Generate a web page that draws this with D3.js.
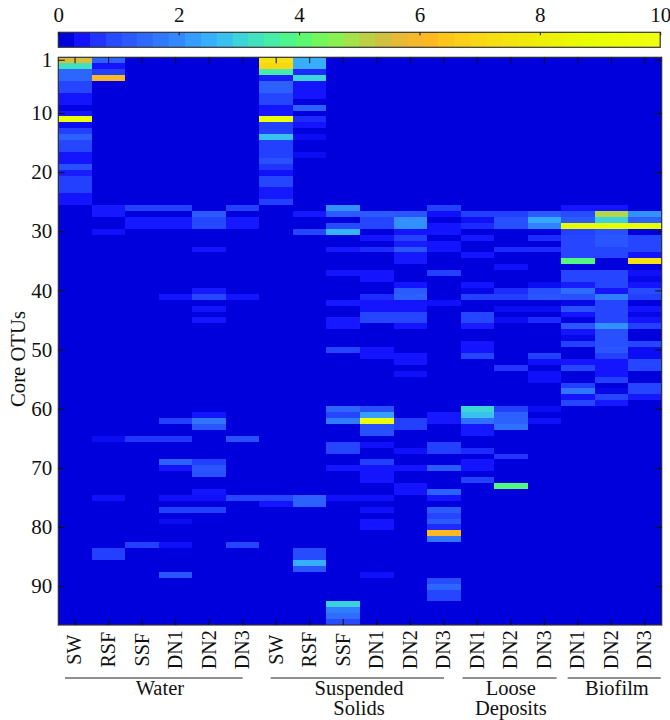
<!DOCTYPE html>
<html>
<head>
<meta charset="utf-8">
<script src="https://d3js.org/d3.v7.min.js"></script>
<style>
  html, body { margin: 0; padding: 0; background: #fff; }
  svg { display: block; }
  text { font-family: "Liberation Serif", serif; fill: #111; }
</style>
</head>
<body>
<svg class="chart"></svg>
<script>
// sample names along the x axis
var sampleNames = ["SW", "RSF", "SSF", "DN1", "DN2", "DN3", "SW", "RSF", "SSF", "DN1", "DN2", "DN3",
                   "DN1", "DN2", "DN3", "DN1", "DN2", "DN3"];
var otuTicks = [1, 10, 20, 30, 40, 50, 60, 70, 80, 90];
var colorbarTicks = [0, 2, 4, 6, 8, 10];
var colorPositions = [0, 0.3, 0.45, 0.6, 1, 1.5, 2, 2.3, 2.6, 2.9, 3.2, 3.6, 3.9, 4.2, 4.7, 5, 5.4, 5.8, 6.2, 6.6, 7.2, 8, 9, 10];
var colorValues = ["#0000dc", "#1414ff", "#1a20ff", "#2440ff", "#2a55ff", "#2f70ff", "#3390ff", "#36a8ff", "#38bbf8", "#3cd0e0",
                   "#40e0c0", "#48f0a0", "#50f880", "#68f860", "#90f050", "#b0d848", "#d0c040", "#f0b830", "#ffb820",
                   "#ffcc18", "#f8dc14", "#f0ec08", "#e8ff00", "#f0ff10"];

// one list per sample, rows are core OTUs 1..96
var waterSW = [
  5.5,3.2,1.3,1.3,.7,.7,.3,.3,.05,.3,
  9.5,.2,.6,1.2,.7,.7,.3,.3,.9,.4,
  .6,.6,.6,.3,.3,0,0,0,0,0,
  0,0,0,0,0,0,0,0,0,0,
  0,0,0,0,0,0,0,0,0,0,
  0,0,0,0,0,0,0,0,0,0,
  0,0,0,0,0,0,0,0,0,0,
  0,0,0,0,0,0,0,0,0,0,
  0,0,0,0,0,0,0,0,0,0,
  0,0,0,0,0,0];
var waterRSF = [
  1.2,.3,.6,6,0,0,0,0,0,0,
  0,0,0,0,0,0,0,0,0,0,
  0,0,0,0,0,.35,.35,0,0,.25,
  0,0,0,0,0,0,0,0,0,0,
  0,0,0,0,0,0,0,0,0,0,
  0,0,0,0,0,0,0,0,0,0,
  0,0,0,0,.2,0,0,0,0,0,
  0,0,0,0,.25,0,0,0,0,0,
  0,0,0,.6,.6,0,0,0,0,0,
  0,0,0,0,0,0];
var waterSSF = [
  0,0,0,0,0,0,0,0,0,0,
  0,0,0,0,0,0,0,0,0,0,
  0,0,0,0,0,.6,0,.35,.35,0,
  0,0,0,0,0,0,0,0,0,0,
  0,0,0,0,0,0,0,0,0,0,
  0,0,0,0,0,0,0,0,0,0,
  0,0,0,0,.55,0,0,0,0,0,
  0,0,0,0,0,0,0,0,0,0,
  0,0,.6,0,0,0,0,0,0,0,
  0,0,0,0,0,0];
var waterDN1 = [
  0,0,0,0,0,0,0,0,0,0,
  0,0,0,0,0,0,0,0,0,0,
  0,0,0,0,0,.6,0,.35,.35,0,
  0,0,0,0,0,0,0,0,0,0,
  .3,0,0,0,0,0,0,0,0,0,
  0,0,0,0,0,0,0,0,0,0,
  0,.6,0,0,.55,0,0,0,1.2,.3,
  0,0,0,0,.25,0,.6,0,.2,0,
  0,0,.25,0,0,0,0,1,0,0,
  0,0,0,0,0,0];
var waterDN2 = [
  0,0,0,0,0,0,0,0,0,0,
  0,0,0,0,0,0,0,0,0,0,
  0,0,0,0,0,0,1.1,.75,.75,0,
  0,0,.3,0,0,0,0,0,0,.35,
  .7,0,.3,0,.3,0,0,0,0,0,
  0,0,0,0,0,0,0,0,0,0,
  .3,1.6,1,0,0,0,0,0,.6,1,
  .9,0,0,.3,.25,0,.6,0,0,0,
  0,0,0,0,0,0,0,0,0,0,
  0,0,0,0,0,0];
var waterDN3 = [
  0,0,0,0,0,0,0,0,0,0,
  0,0,0,0,0,0,0,0,0,0,
  0,0,0,0,0,.6,0,.35,.35,0,
  0,0,0,0,0,0,0,0,0,0,
  .3,0,0,0,0,0,0,0,0,0,
  0,0,0,0,0,0,0,0,0,0,
  0,0,0,0,.9,0,0,0,0,0,
  0,0,0,0,.7,0,0,0,0,0,
  0,0,.7,0,0,0,0,0,0,0,
  0,0,0,0,0,0];
var solidsSW = [
  7.5,7,3.5,.4,1.2,1.2,.7,.7,.3,.35,
  9.5,.6,.6,2.7,.6,.6,.6,.9,.55,.25,
  .7,.7,.35,.35,.6,0,0,0,0,0,
  0,0,0,0,0,0,0,0,0,0,
  0,0,0,0,0,0,0,0,0,0,
  0,0,0,0,0,0,0,0,0,0,
  0,0,0,0,0,0,0,0,0,0,
  0,0,0,0,.7,.3,0,0,0,0,
  0,0,0,0,0,0,0,0,0,0,
  0,0,0,0,0,0];
var solidsRSF = [
  2.4,2.4,.5,3,.3,.3,.3,0,1.2,0,
  .5,.3,0,.2,0,0,.2,0,0,0,
  0,0,0,0,0,0,.35,0,0,.7,
  0,0,0,0,0,0,0,0,0,0,
  0,0,0,0,0,0,0,0,0,0,
  0,0,0,0,0,0,0,0,0,0,
  0,0,0,0,0,0,0,0,0,0,
  0,0,0,0,1.2,1.2,0,0,0,0,
  0,0,0,.8,.8,2.4,1,0,0,0,
  0,0,0,0,0,0];
var solidsSSF = [
  0,0,0,0,0,0,0,0,0,0,
  0,0,0,0,0,0,0,0,0,0,
  0,0,0,0,0,2,1.1,0,.8,2.5,
  0,0,.35,0,0,0,.3,0,0,0,
  0,.35,0,0,.35,.35,0,0,0,.7,
  0,0,0,0,0,0,0,0,0,1.3,
  .7,1.7,0,0,0,.7,.7,0,0,.3,
  0,0,0,0,.25,0,0,0,0,0,
  0,0,0,0,0,0,0,0,0,0,
  0,0,2.9,1.7,1.4,.8];
var solidsDN1 = [
  0,0,0,0,0,0,0,0,0,0,
  0,0,0,0,0,0,0,0,0,0,
  0,0,0,0,0,0,1.1,.7,.7,0,
  .3,0,.5,0,0,0,.3,.3,0,0,
  .5,.3,.3,.7,.7,0,0,0,0,.3,
  .3,0,0,0,0,0,0,0,0,.9,
  2.2,9.5,.9,.9,0,.25,0,0,.6,.3,
  .3,.3,0,0,.25,0,.25,0,.3,.3,
  0,0,0,0,0,0,0,.25,0,0,
  0,0,0,0,0,0];
var solidsDN2 = [
  0,0,0,0,0,0,0,0,0,0,
  0,0,0,0,0,0,0,0,0,0,
  0,0,0,0,0,0,1,2,2,.3,
  .6,.4,1,.35,.35,0,0,0,.3,1.1,
  1.2,.3,.3,.7,.7,.3,0,0,0,0,
  .3,.3,0,.25,0,0,0,0,0,0,
  0,.6,.6,0,0,0,.25,0,0,.3,
  0,0,.3,.3,0,0,0,0,0,0,
  0,0,0,0,0,0,0,0,0,0,
  0,0,0,0,0,0];
var solidsDN3 = [
  0,0,0,0,0,0,0,0,0,0,
  0,0,0,0,0,0,0,0,0,0,
  0,0,0,0,0,.6,.25,0,.3,.3,
  0,.3,.3,0,0,0,.6,0,0,0,
  0,.25,0,0,0,0,0,0,0,0,
  0,0,0,0,0,0,0,0,0,0,
  .35,.35,0,0,0,.6,.6,0,0,1.1,
  0,0,0,1.2,.3,0,1.1,.7,1.1,.5,
  6.2,1.6,0,0,0,0,0,0,.8,1.3,
  .7,.7,0,0,0,0];
var depositsDN1 = [
  0,0,0,0,0,0,0,0,0,0,
  0,0,0,0,0,0,0,0,0,0,
  0,0,0,0,0,0,.6,.25,.5,0,
  .35,0,0,.3,0,0,0,0,.3,.1,
  .6,0,0,.7,.7,.4,0,0,.3,.3,
  .7,0,0,0,0,0,0,0,0,3,
  2.7,1.5,.35,.35,0,0,.5,0,.3,.3,
  0,.6,0,0,0,0,0,0,0,0,
  0,0,0,0,0,0,0,0,0,0,
  0,0,0,0,0,0];
var depositsDN2 = [
  0,0,0,0,0,0,0,0,0,0,
  0,0,0,0,0,0,0,0,0,0,
  0,0,0,0,0,0,.6,.9,.9,0,
  0,0,.5,0,0,.25,0,0,0,.5,
  .6,0,.2,0,.2,0,0,0,0,0,
  0,0,.55,0,0,0,0,0,0,.6,
  1.2,1.2,1.5,0,0,0,0,.55,0,0,
  0,0,3.9,0,0,0,0,0,0,0,
  0,0,0,0,0,0,0,0,0,0,
  0,0,0,0,0,0];
var depositsDN3 = [
  0,0,0,0,0,0,0,0,0,0,
  0,0,0,0,0,0,0,0,0,0,
  0,0,0,0,0,0,1.1,2.3,1.8,0,
  .5,0,.5,0,0,0,0,0,.2,.9,
  1,0,.2,0,.5,0,0,0,0,0,
  .6,.25,0,.25,.25,0,0,0,0,.2,
  0,.25,0,0,0,0,0,0,0,0,
  0,0,0,0,0,0,0,0,0,0,
  0,0,0,0,0,0,0,0,0,0,
  0,0,0,0,0,0];
var biofilmDN1 = [
  0,0,0,0,0,0,0,0,0,0,
  0,0,0,0,0,0,0,0,0,0,
  0,0,0,0,0,.3,.8,1.1,9,.6,
  .7,.7,.7,.7,3.9,0,.7,.7,.4,1.4,
  .9,.1,.9,.3,.05,1,.3,.1,.6,0,
  0,.3,.7,0,0,.6,1.6,.3,.7,0,
  0,0,0,0,0,0,0,0,0,0,
  0,0,0,0,0,0,0,0,0,0,
  0,0,0,0,0,0,0,0,0,0,
  0,0,0,0,0,0];
var biofilmDN2 = [
  0,0,0,0,0,0,0,0,0,0,
  0,0,0,0,0,0,0,0,0,0,
  0,0,0,0,0,.3,5,2.9,9,.9,
  1,1,.7,.7,0,0,.7,.7,.7,.3,
  1.7,.7,.7,.7,.7,2,.9,.9,.9,1,
  .6,.3,.3,.3,.6,0,.1,.7,.35,0,
  0,0,0,0,0,0,0,0,0,0,
  0,0,0,0,0,0,0,0,0,0,
  0,0,0,0,0,0,0,0,0,0,
  0,0,0,0,0,0];
var biofilmDN3 = [
  0,0,0,0,0,0,0,0,0,0,
  0,0,0,0,0,0,0,0,0,0,
  0,0,0,0,0,0,2,1.2,9,0,
  .7,.7,.7,.3,7.5,0,.25,.1,.3,.8,
  .6,0,.3,.1,.3,.6,0,0,.7,.2,
  .2,.7,.7,0,0,.7,.7,.35,0,0,
  0,0,0,0,0,0,0,0,0,0,
  0,0,0,0,0,0,0,0,0,0,
  0,0,0,0,0,0,0,0,0,0,
  0,0,0,0,0,0];

var sampleValues = [waterSW, waterRSF, waterSSF, waterDN1, waterDN2, waterDN3,
                    solidsSW, solidsRSF, solidsSSF, solidsDN1, solidsDN2, solidsDN3,
                    depositsDN1, depositsDN2, depositsDN3,
                    biofilmDN1, biofilmDN2, biofilmDN3];

// groups under the sample names: first and last sample, label lines
var groupNames = [["Water"], ["Suspended", "Solids"], ["Loose", "Deposits"], ["Biofilm"]];
var groupFirst = [0, 6, 12, 15];
var groupLast = [5, 11, 14, 17];

function show() {
    'use strict';

    var margin = { top: 57.3, left: 58.3, right: 8.3, bottom: 95 },
        totalWidth = 670,
        totalHeight = 720,
        width = totalWidth - margin.left - margin.right,
        height = totalHeight - margin.top - margin.bottom;

    // rule ends and label shifts of the groups, in pixels
    var ruleStart = [6.7, 11.2, 2, 6.5];
    var ruleEnd = [-16.8, -16.6, -4.5, -1];
    var labelShift = [1, -1, 0, 5.5];

    var svg = d3.select(".chart")
        .attr("width", totalWidth)
        .attr("height", totalHeight);

    var chart = svg.append("g")
        .attr("transform", "translate(" + margin.left + "," + margin.top + ")");

    var rows = d3.range(1, 97);
    var x = d3.scaleBand().domain(d3.range(sampleNames.length)).range([0, width]);
    var y = d3.scaleBand().domain(rows).range([0, height]);

    var color = d3.scaleLinear().domain(colorPositions).range(colorValues);

    // the colour bar of the original is stepped
    var levels = 38;
    var levelColors = d3.range(levels).map(function (i) { return color(i * 10 / (levels - 1)); });

    // cells
    chart.append("rect")
        .attr("width", width)
        .attr("height", height)
        .attr("fill", color(0));

    var columns = chart.selectAll("g.column").data(sampleValues)
        .enter().append("g")
        .attr("class", "column")
        .attr("transform", function (d, i) { return "translate(" + x(i) + ",0)"; });

    columns.selectAll("rect").data(function (d) { return d; })
        .enter().append("rect")
        .attr("y", function (d, i) { return y(rows[i]); })
        .attr("width", x.bandwidth())
        .attr("height", y.bandwidth())
        .attr("shape-rendering", "crispEdges")
        .attr("fill", function (d) { return color(d); });

    // frame
    chart.append("rect")
        .attr("width", width)
        .attr("height", height)
        .attr("fill", "none")
        .attr("stroke", "#333")
        .attr("stroke-width", 1.2);

    // axes, ticks point inwards
    var left = d3.axisLeft(y).tickValues(otuTicks).tickSize(-6.5).tickPadding(6);
    var right = d3.axisRight(y).tickValues(otuTicks).tickSize(-6.5).tickFormat("");
    var top = d3.axisTop(x).tickSize(-6).tickFormat("");
    var bottom = d3.axisBottom(x).tickSize(-6)
        .tickFormat(function (i) { return sampleNames[i]; });

    var leftAxis = chart.append("g").call(left);
    chart.append("g").attr("transform", "translate(" + width + ",0)").call(right);
    chart.append("g").call(top);
    var bottomAxis = chart.append("g").attr("transform", "translate(0," + height + ")").call(bottom);

    chart.selectAll(".domain").remove();
    chart.selectAll(".tick line").attr("stroke", "#111").attr("stroke-width", 1);

    leftAxis.selectAll("text").attr("font-size", 21).style("font-family", '"Liberation Serif", serif');
    bottomAxis.selectAll("text")
        .attr("font-size", 20)
        .style("font-family", '"Liberation Serif", serif')
        .attr("text-anchor", "middle")
        .attr("dy", "0.32em")
        .attr("x", 0)
        .attr("y", 0)
        .attr("transform", "translate(0,24.7) rotate(-90)");

    // y axis title
    chart.append("text")
        .attr("transform", "translate(" + (24.5 - margin.left) + "," + (359 - margin.top) + ") rotate(-90)")
        .attr("text-anchor", "middle")
        .attr("font-size", 20.7)
        .text("Core OTUs");

    // group rules and labels
    var groups = chart.selectAll("g.group").data(groupNames)
        .enter().append("g")
        .attr("class", "group");

    groups.append("line")
        .attr("x1", function (d, i) { return x(groupFirst[i]) + ruleStart[i]; })
        .attr("x2", function (d, i) { return x(groupLast[i]) + x.bandwidth() + ruleEnd[i]; })
        .attr("y1", height + 53)
        .attr("y2", height + 53)
        .attr("stroke", "#222")
        .attr("stroke-width", 1.2);

    groups.each(function (lines, i) {
        var centre = (x(groupFirst[i]) + x(groupLast[i]) + x.bandwidth()) / 2 + labelShift[i];
        d3.select(this).selectAll("text").data(lines)
            .enter().append("text")
            .attr("x", centre)
            .attr("y", function (d, j) { return height + 70.5 + j * 19.5; })
            .attr("text-anchor", "middle")
            .attr("font-size", 20.5)
            .text(function (d) { return d; });
    });

    // colour bar
    var barX = d3.scaleLinear().domain([0, 10]).range([0, width - 1.5]);
    var bar = svg.append("g").attr("transform", "translate(" + margin.left + ",32.3)");

    bar.selectAll("rect").data(levelColors)
        .enter().append("rect")
        .attr("x", function (d, i) { return barX(i * 10 / levels); })
        .attr("width", barX(10 / levels))
        .attr("height", 15)
        .attr("shape-rendering", "crispEdges")
        .attr("fill", function (d) { return d; });

    bar.append("rect")
        .attr("width", width - 1.5)
        .attr("height", 15)
        .attr("fill", "none")
        .attr("stroke", "#333")
        .attr("stroke-width", 1.2);

    var barAxis = d3.axisTop(barX).tickValues(colorbarTicks).tickSize(-3).tickPadding(10)
        .tickFormat(function (d) { return d; });

    bar.append("g").call(barAxis)
        .call(function (g) { g.select(".domain").remove(); })
        .call(function (g) { g.selectAll("line").attr("stroke", "#111"); })
        .call(function (g) {
            g.selectAll("text").attr("font-size", 21).style("font-family", '"Liberation Serif", serif');
        });
}

show();
</script>
</body>
</html>
